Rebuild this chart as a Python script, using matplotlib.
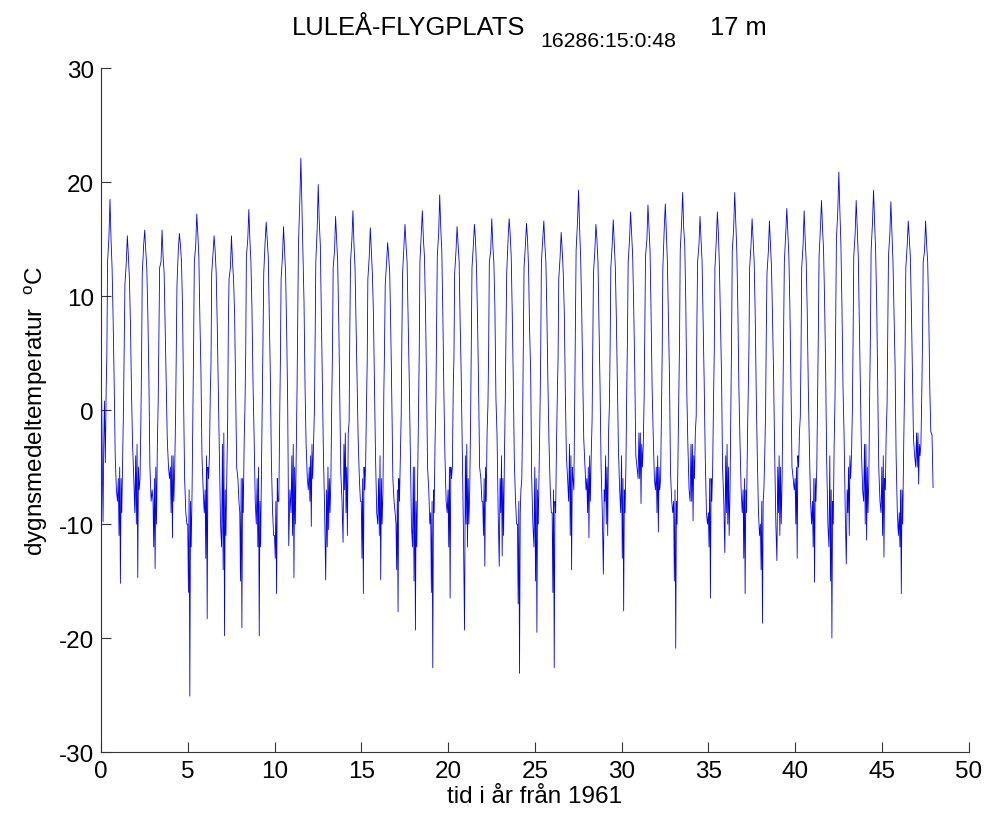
import numpy as np
import matplotlib
matplotlib.use("Agg")
import matplotlib.pyplot as plt

plt.rcParams['font.family'] = ['Liberation Sans', 'DejaVu Sans']
plt.rcParams['mathtext.default'] = 'regular'
plt.rcParams['axes.unicode_minus'] = False

# one row per year 1961..2008, values in degC
years = np.arange(48)
# time of year (fraction) for each column below
fracs = [0.00, 0.04, 0.08, 0.12, 0.16, 0.20, 0.25, 0.30, 0.34, 0.38,
         0.46, 0.52, 0.58, 0.64, 0.70, 0.76, 0.82, 0.89, 0.95]

jan = [-15.6, -6, -4, -8, -5, -10, -7, -3, -9, -6, -11, -4, -5, -7, -3, -8, -6, -10, -5, -9, -7, -4, -8, -6,
       -10, -5, -9, -3, -6, -7, -4, -2, -5, -8, -3, -9, -4, -7, -10, -5, -6, -8, -4, -7, -3, -5, -9, -2]
jlo = [1.0, -11, -10, -12, -9, -16, -13, -14, -15, -12, -13, -11, -8, -12, -7, -13, -11, -14, -15, -16, -12, -10, -11, -9,
       -17, -15, -16, -11, -9, -8, -13, -6, -9, -15, -8, -12, -9, -13, -14, -9, -10, -12, -15, -9, -10, -11, -12, -5]
jhi = [-5, -5, -3, -6, -4, -7, -4, -2, -6, -5, -8, -3, -4, -5, -2, -6, -4, -7, -5, -8, -5, -3, -6, -4,
       -8, -6, -7, -4, -5, -4, -6, -2, -4, -7, -3, -6, -3, -6, -8, -4, -5, -6, -7, -5, -3, -4, -7, -2]
low = [-9.8, -15.2, -14.7, -13.9, -11.2, -25.1, -18.3, -19.8, -19.1, -19.8, -16.1, -14.7, -10.2, -10.5, -9.0, -16.1,
       -14.9, -17.7, -19.3, -22.6, -16.5, -12.0, -13.7, -12.8, -23.1, -19.5, -22.6, -14.0, -11.2, -10.0, -17.6, -8.2,
       -10.7, -20.9, -9.7, -16.5, -10.0, -16.1, -18.7, -11.0, -13.0, -15.1, -20.0, -11.0, -11.4, -12.9, -16.1, -6.5]
fhi = [-3, -6, -5, -5, -4, -8, -5, -7, -6, -8, -6, -5, -3, -6, -5, -5, -6, -6, -8, -7, -5, -6, -5, -6,
       -9, -7, -8, -5, -4, -5, -7, -3, -5, -8, -4, -6, -5, -7, -8, -5, -4, -6, -8, -4, -5, -6, -7, -3]
feb = [0.8, -9, -7, -10, -8, -12, -6, -11, -9, -12, -8, -10, -6, -9, -11, -7, -10, -8, -12, -9, -6, -10, -8, -11,
       -7, -10, -9, -6, -8, -11, -9, -5, -7, -10, -6, -8, -11, -9, -7, -10, -5, -8, -10, -6, -9, -7, -10, -4]
mar = [-4.6, -4, -6, -3, -5, -7, -4, -6, -3, -5, -8, -4, -3, -6, -2, -5, -7, -4, -6, -3, -5, -7, -2, -4,
       -6, -5, -3, -7, -4, -2, -5, -3, -6, -4, -2, -5, -7, -3, -4, -6, -2, -5, -3, -4, -6, -2, -4, -3]
apr = [1.8, 0.5, -1, 1, -0.5, 0, 1.5, -1, 0.5, 1, -0.5, 2, 0, 1, -1, 0.5, 1.5, -0.5, 0, 1, 2, -1, 0.5, 1,
       -0.5, 0, 1.5, 1, -1, 0.5, 2, 1, 0, 1.5, -0.5, 1, 0.5, 2, 0, 1, -0.5, 1.5, 1, 0, 2, 0.5, 1, 1.5]
may = [5, 6, 4.5, 7, 5.5, 6, 4, 7.5, 5, 6.5, 4.5, 8, 6, 5, 7, 4, 5.5, 6.5, 5, 7, 4.5, 6, 5.5, 7,
       6, 5, 4.5, 8, 6, 5.5, 6.5, 7, 5, 6, 7.5, 5, 6.5, 5.5, 7, 6, 5, 7, 8, 6, 6.5, 7.5, 5.5, 6]
jun = [13, 11, 12, 12.5, 11, 13, 12, 11.5, 13.5, 12, 11.5, 14.5, 13, 12.5, 13, 11.5, 11, 12, 13, 13.5, 12, 12.5, 13, 12,
       12.5, 13, 11.5, 14, 12, 12.5, 13, 13.5, 12.5, 14, 13, 12.5, 14, 12.5, 12, 13, 12.5, 13.5, 15, 13.5, 14, 13.5, 12.5, 13]
jun2 = [15.2, 13.0, 14.5, 13.0, 14.2, 14.5, 13.8, 12.5, 15.0, 14.8, 13.5, 18.5, 16.0, 14.0, 15.0, 13.5,
        13.0, 14.5, 15.5, 15.5, 14.0, 14.5, 14.0, 15.0, 14.5, 15.0, 13.5, 16.5, 14.0, 14.5, 15.0, 15.0,
        16.0, 16.5, 14.5, 15.0, 16.0, 14.5, 14.0, 15.5, 14.5, 16.0, 17.5, 15.5, 16.5, 15.5, 14.5, 14.0]
top = [18.5, 15.3, 15.8, 15.8, 15.5, 17.2, 15.3, 15.3, 17.6, 16.5, 16.1, 22.1, 19.8, 17.0, 17.5, 16.0,
       14.7, 16.3, 17.5, 18.9, 16.1, 16.3, 16.8, 16.8, 16.4, 16.6, 15.6, 19.3, 16.3, 16.7, 17.4, 18.0,
       18.1, 19.1, 17.0, 17.4, 19.1, 16.8, 16.6, 17.7, 17.5, 18.4, 20.9, 18.4, 19.3, 18.3, 16.6, 16.6]
jul = [15, 13.5, 14, 13.5, 14.5, 15.5, 14, 13, 15, 15, 14, 18, 16.5, 15, 14.5, 14, 13.5, 14.5, 15, 16, 14.5, 15, 14.5, 15.5,
       15, 14.5, 14, 16, 15, 14.5, 15.5, 16, 15.5, 16, 15, 15.5, 16.5, 15, 14.5, 15.5, 15, 16, 17.5, 16, 16.5, 15.5, 15, 14.5]
aug = [12.5, 11.5, 12.5, 12, 13, 13.5, 12, 11.5, 13, 13.5, 12, 14, 14.5, 13, 12.5, 12, 12, 13, 13.5, 14, 13, 12.5, 13, 13.5,
       12.5, 13, 12, 13.5, 13, 12.5, 13.5, 14, 13, 14.5, 13, 12.5, 14, 13, 12.5, 13.5, 13, 14, 14.5, 13.5, 14, 13, 13.5, 13]
sep = [8, 7.5, 8.5, 7, 9, 8, 7.5, 8.5, 9, 8, 7, 9.5, 8.5, 8, 7.5, 8.5, 7, 8, 9, 8.5, 7.5, 8, 9, 8.5,
       7, 8, 8.5, 9, 7.5, 8, 9, 8.5, 8, 9.5, 8, 7.5, 9, 8.5, 8, 9, 8.5, 9.5, 9, 8, 9.5, 8.5, 9, 8.5]
octo = [2.5, 1.5, 3, 2, 1, 3.5, 2, 1.5, 2.5, 3, 0.5, 2, 3, 1.5, 2.5, 2, 1, 3, 2.5, 1.5, 3, 2, 1, 2.5,
        3.5, 2, 1.5, 3, 2, 2.5, 3.5, 2, 3, 1.5, 2.5, 3, 2, 1.5, 3, 2.5, 2, 3.5, 2, 3, 2.5, 4, 3, 2]
nov = [-4, -3, -5, -2.5, -6, -4, -3.5, -5, -2, -4.5, -11.9, -3, -4, -5.5, -2.5, -4, -6, -3, -5, -4, -3.5, -5, -2, -4.5,
       -6, -3, -4, -2.5, -5, -3.5, -4, -2, -5.5, -3, -4, -5, -2.5, -4, -3.5, -5, -3, -4.5, -2, -3.5, -5, -4, -2.5, -1.9]
nlo = [-7, -6, -8, -5, -9, -7, -10, -6, -8, -9, -7, -6, -9, -8, -6, -9, -8, -10, -7, -8, -11, -6, -9, -8,
       -10, -7, -6, -5, -9, -7, -5, -6, -8, -7, -9, -8, -7, -9, -10, -6, -8, -10, -9, -7, -8, -9, -4, -2.2]
dec = [-8, -9, -7, -6, -10, -9, -12, -8, -10, -11, -9, -7, -14.9, -11.6, -8, -10, -9, -12, -10, -9, -19.3, -8, -13.7, -10,
       -12, -9, -8, -7, -14.4, -9, -6, -7, -9, -8, -10, -12.5, -9, -11, -13.2, -7, -10, -12, -13.5, -8, -9, -11, -5, -6.8]

vals = np.column_stack([jan, jlo, jhi, low, fhi, feb, mar, apr, may, jun, jun2, top,
                        jul, aug, sep, octo, nov, nlo, dec]).ravel()
tid = (years[:, None] + np.array(fracs)[None, :]).ravel()

fig = plt.figure(figsize=(9.87, 8.2), dpi=100)
ax = fig.add_axes([0.1023, 0.0817, 0.8791, 0.8338])
ax.plot(tid, vals, color='#0000ff', lw=0.6)

ax.set_xlim(0, 50)
ax.set_ylim(-30, 30)
ax.set_xticks(np.arange(0, 51, 5))
ax.set_yticks(np.arange(-30, 31, 10))
for s in ['top', 'right']:
    ax.spines[s].set_visible(False)
for s in ['left', 'bottom']:
    ax.spines[s].set_color('#333333')
ax.tick_params(direction='in', length=7, width=0.8, labelsize=17.5, colors='#333333', labelcolor='black')
ax.tick_params(axis='x', pad=6)
ax.tick_params(axis='y', pad=5)

ax.set_xlabel('tid i år från 1961', fontsize=17.5, labelpad=2)
ax.set_ylabel('dygnsmedeltemperatur  $^{o}$C', fontsize=17.5, labelpad=6)

fig.text(292 / 987, 1 - 35 / 820, 'LULEÅ-FLYGPLATS', fontsize=18.4, ha='left', va='baseline')
fig.text(540 / 987, 1 - 47 / 820, '16286:15:0:48', fontsize=15.3, ha='left', va='baseline')
fig.text(710 / 987, 1 - 35 / 820, '17 m', fontsize=18.4, ha='left', va='baseline')

fig.savefig('out.png', dpi=100)
